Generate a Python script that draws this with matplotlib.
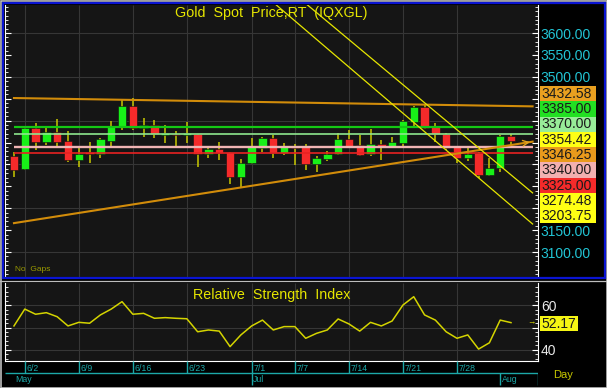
import numpy as np
import matplotlib.pyplot as plt
from matplotlib.patches import Rectangle
from matplotlib.ticker import MultipleLocator, FixedLocator

plt.rcParams['font.family'] = ['Liberation Sans', 'DejaVu Sans']

W, H = 607, 388

# daily candles, 5/30 .. 8/4
opens = [3319, 3290, 3383, 3351, 3374, 3353, 3310, 3328, 3324, 3353, 3385, 3433, 3383, 3390, 3367, 3369,
         3367, 3369, 3324, 3335, 3328, 3271, 3303, 3337, 3360, 3326, 3340, 3340, 3301, 3312, 3324, 3358,
         3344, 3324, 3347, 3342, 3349, 3397, 3431, 3388, 3369, 3340, 3315, 3326, 3276, 3292, 3365]
highs = [3328, 3385, 3395, 3385, 3404, 3376, 3340, 3351, 3360, 3399, 3447, 3452, 3406, 3401, 3390, 3376,
         3397, 3370, 3340, 3351, 3329, 3312, 3360, 3363, 3367, 3349, 3347, 3347, 3319, 3331, 3372, 3379,
         3367, 3381, 3356, 3363, 3401, 3433, 3438, 3395, 3371, 3342, 3337, 3328, 3315, 3367, 3369]
lows = [3271, 3288, 3333, 3344, 3342, 3305, 3294, 3303, 3315, 3340, 3378, 3379, 3363, 3360, 3349, 3340,
        3349, 3294, 3315, 3310, 3255, 3248, 3302, 3328, 3315, 3322, 3299, 3287, 3283, 3308, 3322, 3337,
        3319, 3319, 3310, 3337, 3337, 3383, 3381, 3351, 3333, 3303, 3308, 3269, 3274, 3283, 3344]
closes = [3287, 3383, 3351, 3374, 3351, 3310, 3324, 3324, 3358, 3385, 3433, 3383, 3390, 3369, 3372, 3367,
          3372, 3324, 3335, 3326, 3271, 3303, 3340, 3360, 3326, 3340, 3337, 3301, 3315, 3324, 3358, 3342,
          3322, 3347, 3342, 3351, 3399, 3431, 3383, 3369, 3337, 3315, 3324, 3276, 3292, 3365, 3354.42]

rsi = [50.7, 58.2, 55.9, 56.6, 54.8, 50.7, 52.3, 51.9, 55.6, 58.2, 61.5, 55.9, 56.3, 54.1, 54.4, 54.1,
       53.9, 48.1, 48.9, 48.4, 41.5, 46.7, 50.7, 53.3, 48.9, 50.4, 50.4, 45.2, 47.4, 48.9, 53.8, 51.6,
       48.4, 52.3, 50.7, 52.9, 60.0, 63.7, 55.6, 53.3, 48.1, 45.2, 46.7, 40.4, 43.2, 53.3, 52.17]

week_idx = [1, 6, 11, 16, 22, 26, 31, 36, 41]
week_labels = ['6/2', '6/9', '6/16', '6/23', '7/1', '7/7', '7/14', '7/21', '7/28']
month_idx = [0, 22, 45]
month_labels = ['May', 'Jul', 'Aug']

# horizontal levels
levels = [3385.0, 3370.0, 3340.0, 3325.0]
level_colors = ['#14C814', '#8EE68E', '#F0B4B4', '#E82222']
level_widths = [1.6, 1.2, 1.7, 1.2]

# trend lines (bar index, price)
res_x, res_y = [0, 48], [3451.6, 3432.58]
sup_x, sup_y = [0, 48], [3166, 3352]
chan_hi_x, chan_hi_y = [26, 48], [3688, 3235]
chan_lo_x, chan_lo_y = [23, 48], [3691, 3164]

box_values = [3432.58, 3385.00, 3370.00, 3354.42, 3346.25, 3340.00, 3325.00, 3274.48, 3203.75]
box_colors = ['#E9A020', '#22E022', '#98EC98', '#FFFF14', '#E99A1C', '#F2B0B0', '#F42A2A', '#FFFF14', '#FFFF14']


def box(x0, y0, x1, y1):
    return [x0 / W, 1 - y1 / H, (x1 - x0) / W, (y1 - y0) / H]


fig = plt.figure(figsize=(W / 100, H / 100), dpi=100, facecolor='black')
idx = np.arange(len(closes))
xlim = (-0.83, 48.5)

# ---- price panel ----
ax = fig.add_axes(box(5, 5, 538, 277), facecolor='#151515')
ax.set_xlim(*xlim)
ax.set_ylim(3043, 3664)
ax.hlines(np.arange(3100, 3601, 100), *xlim, color='#363636', lw=0.8, zorder=0)
ax.vlines(week_idx, 3043, 3664, color='#363636', lw=0.8, zorder=0)

o = np.array(opens, float)
c = np.array(closes, float)
colors = ['#18F018' if cc >= oo else '#F52A2A' for oo, cc in zip(o, c)]
ax.vlines(idx, lows, highs, color='#C8C800', lw=1.1, zorder=3)
ax.bar(idx, np.maximum(np.abs(c - o), 3), 0.78, bottom=np.minimum(o, c),
       color=colors, edgecolor='#101010', lw=0.4, zorder=4)

ax.hlines(levels, 0, 48, colors=level_colors, lw=level_widths, zorder=5)
ax.plot(res_x, res_y, color='#D28C0A', lw=1.5, zorder=5)
ax.plot(sup_x, sup_y, color='#D28C0A', lw=1.5, zorder=5)
ax.annotate('', xy=(sup_x[1], sup_y[1]), xytext=(sup_x[1] - 0.8, sup_y[1] - 3.1),
            arrowprops=dict(arrowstyle='->', color='#E0A020', lw=1), zorder=6)
ax.plot(chan_hi_x, chan_hi_y, color='#E6E600', lw=0.9, zorder=5)
ax.plot(chan_lo_x, chan_lo_y, color='#E6E600', lw=0.9, zorder=5)

# labels between 3200 and 3450 sit under the value boxes, so leave them blank
ax.yaxis.set_major_locator(FixedLocator(np.arange(3100, 3601, 50)))
ax.yaxis.set_minor_locator(MultipleLocator(10))
ax.yaxis.set_major_formatter(lambda v, p: '' if 3190 < v < 3460 else f'{v:.2f}')
ax.tick_params(axis='y', which='both', direction='in', left=True, right=True,
               labelleft=False, labelright=True, color='white', labelcolor='#22C4D4',
               labelsize=10, pad=2)
ax.tick_params(axis='y', which='major', length=4)
ax.tick_params(axis='y', which='minor', length=2)
ax.tick_params(axis='x', length=0, labelbottom=False)
for s in ['top', 'bottom']:
    ax.spines[s].set_visible(False)
for s in ['left', 'right']:
    ax.spines[s].set_color('white')

ax.text(0.5, 0.97, 'Gold  Spot  Price,RT  (IQXGL)', color='#E6E600', fontsize=10.3,
        ha='center', va='center', transform=ax.transAxes)
ax.text(0.019, 0.026, 'No  Gaps', color='#9A9A00', fontsize=6, ha='left', va='center',
        transform=ax.transAxes)

# ---- RSI panel ----
ax_r = fig.add_axes(box(5, 283, 538, 361), facecolor='#151515')
ax_r.set_xlim(*xlim)
ax_r.set_ylim(35.1, 69.8)
ax_r.hlines([40, 50, 60], *xlim, color='#363636', lw=0.8, zorder=0)
ax_r.vlines(week_idx, 35.1, 69.8, color='#363636', lw=0.8, zorder=0)
ax_r.plot(idx, rsi, color='#D4D400', lw=1.1)
ax_r.yaxis.set_major_locator(FixedLocator([40, 50, 60]))
ax_r.yaxis.set_minor_locator(MultipleLocator(2))
ax_r.yaxis.set_major_formatter(lambda v, p: '' if v == 50 else f'{v:.0f}')
ax_r.tick_params(axis='y', which='both', direction='in', left=True, right=True,
                 labelleft=False, labelright=True, color='white', labelcolor='#E8E8E8',
                 labelsize=10, pad=2)
ax_r.tick_params(axis='y', which='major', length=4)
ax_r.tick_params(axis='y', which='minor', length=2)
ax_r.tick_params(axis='x', length=0, labelbottom=False)
ax_r.spines['top'].set_visible(False)
for s in ['left', 'right', 'bottom']:
    ax_r.spines[s].set_color('white')
ax_r.text(0.5, 0.84, 'Relative  Strength  Index', color='#E6E600', fontsize=10.3,
          ha='center', va='center', transform=ax_r.transAxes)

# ---- date axis ----
ax_d = fig.add_axes(box(5, 361, 538, 386), facecolor='black')
ax_d.set_xlim(*xlim)
ax_d.set_ylim(0, 1)
ax_d.axis('off')
teal = '#1CA8A8'


def yd(py):
    return (386 - py) / 25


ax_d.hlines(yd(373), *xlim, color=teal, lw=1)
ax_d.vlines(xlim[1] - 0.02, yd(385), yd(373), color=teal, lw=1)
ax_d.vlines(week_idx, yd(373), yd(361), color=teal, lw=1)
ax_d.vlines(month_idx[1:], yd(385), yd(373), color=teal, lw=1)
for i, lab in zip(week_idx, week_labels):
    ax_d.text(i + 0.15, yd(368.5), lab, color=teal, fontsize=6.3,
              family=['Liberation Sans Narrow', 'Liberation Sans'], ha='left', va='center')
for i, lab in zip(month_idx, month_labels):
    ax_d.text(i + 0.15, yd(379.5), lab, color=teal, fontsize=6.3,
              family=['Liberation Sans Narrow', 'Liberation Sans'], ha='left', va='center')

# ---- overlay: frames and value boxes ----
ov = fig.add_axes([0, 0, 1, 1], zorder=10)
ov.set_xlim(0, W)
ov.set_ylim(H, 0)
ov.axis('off')
ov.add_patch(Rectangle((0.5, 0.5), W - 1, H - 1, fill=False, edgecolor='#BDBDBD', lw=1.2))
ov.add_patch(Rectangle((3, 3), W - 5.5, 275, fill=False, edgecolor='#0A14D2', lw=1.6))
ov.plot([0, W], [280.5, 280.5], color='#BDBDBD', lw=0.9)

for k, (v, col) in enumerate(zip(box_values, box_colors)):
    y0 = 86 + k * 15.25
    ov.add_patch(Rectangle((540, y0), 56, 15.25, facecolor=col, edgecolor='none'))
    ov.text(541, y0 + 8, f'{v:.2f}', fontsize=10, color='#1A1A1A', ha='left', va='center')

ov.add_patch(Rectangle((540, 316), 38, 15, facecolor='#F5F514', edgecolor='none'))
ov.text(541, 323.8, f'{rsi[-1]:.2f}', fontsize=10, color='#1A1A1A', ha='left', va='center')
ov.text(531, 322.5, '→', fontsize=6, color='#E6E600', ha='center', va='center')
ov.text(553, 375, 'Day', fontsize=8, color='#C8C800', ha='left', va='center')

fig.savefig('out.png', dpi=100, facecolor=fig.get_facecolor())
